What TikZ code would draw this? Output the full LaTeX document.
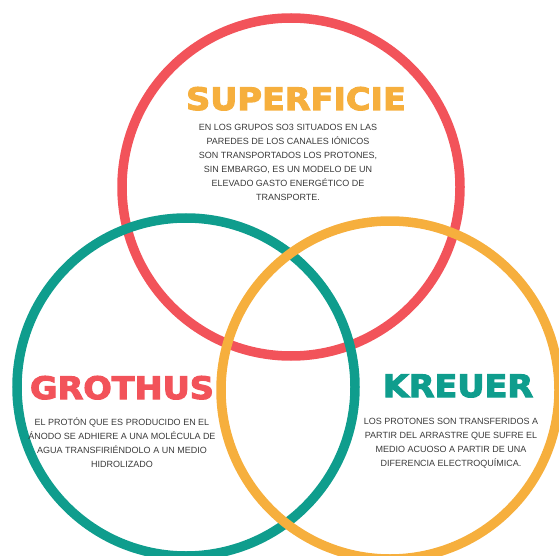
\documentclass[tikz,border=0pt]{standalone}
\usepackage{fontspec}
\setmainfont{Liberation Sans}
\newfontfamily\headfont[FakeStretch=1.08, BoldFeatures={FakeBold=3.5}]{DejaVu Sans}
\newfontfamily\blurbfont{Liberation Sans}
\usetikzlibrary{positioning}

\definecolor{ringred}{HTML}{F2535A}
\definecolor{ringteal}{HTML}{0F9D8D}
\definecolor{ringorange}{HTML}{F6AF3D}
\definecolor{blurbgray}{HTML}{3A3A3A}

\tikzset{
  ring/.style={circle, draw=#1, line width=9.5pt, minimum size=338pt, inner sep=0pt},
  heading/.style={text=#1, anchor=base, inner sep=0pt, font=\headfont\bfseries\fontsize{31}{31}\selectfont},
  blurb/.style={text=blurbgray, align=center, inner sep=0pt, font=\blurbfont\fontsize{9}{14}\selectfont}
}

\begin{document}
\begin{tikzpicture}[x=1pt, y=-1pt]

\useasboundingbox (0,0) rectangle (559,556);

%Declare rings.
\node[ring=ringred] (sup) at (291,187) {};
\node[ring=ringteal] (gro) at (186,387) {};
\node[ring=ringorange] (kre) at (390,390) {};

%Declare headings.
\node[heading=ringorange] (suptitle) at (296,110) {SUPERFICIE};
\node[heading=ringred] (grotitle) at (122,399) {GROTHUS};
\node[heading=ringteal] (kretitle) at (458,397) {KREUER};

%Declare texts.
\node[blurb, below=14pt of suptitle.base, xshift=-8pt] (suptext) {EN LOS GRUPOS SO3 SITUADOS EN LAS\\PAREDES DE LOS CANALES IÓNICOS\\SON TRANSPORTADOS LOS PROTONES,\\SIN EMBARGO, ES UN MODELO DE UN\\ELEVADO GASTO ENERGÉTICO DE\\TRANSPORTE.};
\node[blurb, below=18pt of grotitle.base] (grotext) {EL PROTÓN QUE ES PRODUCIDO EN EL\\ÁNODO SE ADHIERE A UNA MOLÉCULA DE\\AGUA TRANSFIRIÉNDOLO A UN MEDIO\\HIDROLIZADO};
\node[blurb, below=21pt of kretitle.base, xshift=-7pt] (kretext) {LOS PROTONES SON TRANSFERIDOS A\\PARTIR DEL ARRASTRE QUE SUFRE EL\\MEDIO ACUOSO A PARTIR DE UNA\\DIFERENCIA ELECTROQUÍMICA.};

\end{tikzpicture}
\end{document}
